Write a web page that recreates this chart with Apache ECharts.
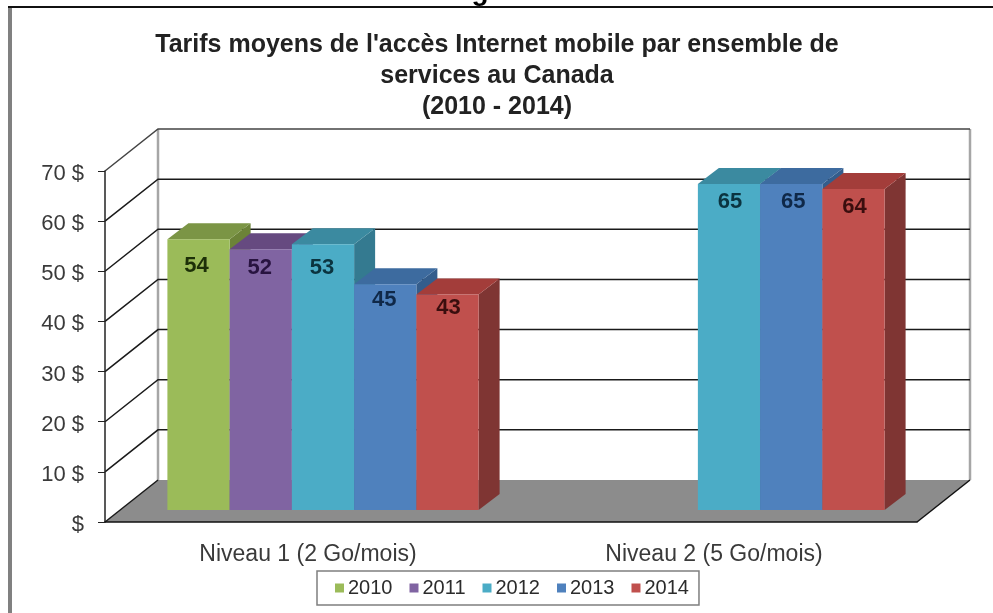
<!DOCTYPE html>
<html>
<head>
<meta charset="utf-8">
<style>
html, body { margin: 0; padding: 0; background: #fff; }
#main { width: 993px; height: 613px; }
</style>
<script src="https://cdn.jsdelivr.net/npm/echarts@6/dist/echarts.min.js"></script>
</head>
<body>
<div id="main"></div>
<script>
var categories = ['Niveau 1 (2 Go/mois)', 'Niveau 2 (5 Go/mois)'];
var years = ['2010', '2011', '2012', '2013', '2014'];
var values2010 = [54, null];
var values2011 = [52, null];
var values2012 = [53, 65];
var values2013 = [45, 65];
var values2014 = [43, 64];
var yTicks = [0, 10, 20, 30, 40, 50, 60, 70];

var allValues = [values2010, values2011, values2012, values2013, values2014];
// front, top, side, label colours per year
var front = ['#9bbb59', '#8064a2', '#4bacc6', '#4f81bd', '#c0504d'];
var top3d = ['#7b9545', '#664a80', '#3b8aa0', '#3d6b9f', '#a33d3a'];
var side = ['#6c8338', '#57406f', '#347a90', '#345d8c', '#7f3533'];
var labelColor = ['#1d3008', '#281340', '#0b3440', '#0f2848', '#3a0e0e'];
// the labels don't sit at a fixed distance from the bar top, so nudge them per year
var labelDx = [-2, -1, -1, -1, 1];
var labelDy = [27, 19, 24, 16, 14];

var FONT = '"Liberation Sans", Arial, sans-serif';
// wall depth of the fake 3d box
var WALL_DX = 53, WALL_DY = -42;
// bars stand a bit inside the floor
var BAR_IN_X = 15, BAR_IN_Y = -12;
var BAR_DX = 21, BAR_DY = -16;
var SLOT = 0.1533;

function poly(points, color) {
    return { type: 'polygon', shape: { points: points }, style: { fill: color } };
}

function renderFloor(params, api) {
    var cs = params.coordSys;
    var y0 = api.coord([0, 0])[1];
    var xl = cs.x, xr = cs.x + cs.width;
    var yTop = api.coord([0, 70])[1];
    var line = function (x1, y1, x2, y2, color, w) {
        return { type: 'line', shape: { x1: x1, y1: y1, x2: x2, y2: y2 }, style: { stroke: color, lineWidth: w } };
    };
    return {
        type: 'group',
        children: [
            line(xl + WALL_DX, yTop + WALL_DY, xl + WALL_DX, y0 + WALL_DY, '#a6a6a6', 2.5),
            line(xr + WALL_DX, yTop + WALL_DY, xr + WALL_DX, y0 + WALL_DY, '#a6a6a6', 2.5),
            poly([[xl, y0], [xl + WALL_DX, y0 + WALL_DY], [xr + WALL_DX, y0 + WALL_DY], [xr, y0]], '#8c8c8c'),
            line(xr, y0, xr + WALL_DX, y0 + WALL_DY, '#111', 1.5)
        ]
    };
}

// one gridline per tick: diagonal on the side wall, then along the back wall
function renderGrid(params, api) {
    var v = api.value(0);
    var y = api.coord([0, v])[1];
    var cs = params.coordSys;
    var xl = cs.x, xr = cs.x + cs.width;
    var pts = [[xl, y], [xl + WALL_DX, y + WALL_DY]];
    if (v > 0) pts.push([xr + WALL_DX, y + WALL_DY]);
    return {
        type: 'polyline',
        shape: { points: pts },
        style: { fill: null, stroke: v === 70 ? '#444' : '#1a1a1a', lineWidth: 1.5 }
    };
}

function makeBarRender(idx) {
    return function (params, api) {
        var v = api.value(1);
        if (isNaN(v)) return null;
        var cat = api.value(0);
        var band = api.size([1, 0])[0];
        var w = band * SLOT;
        var p = api.coord([cat, v]);
        var base = api.coord([cat, 0]);
        var x0 = p[0] + (idx - 2.5) * w + BAR_IN_X;
        var x1 = x0 + w;
        var yt = p[1] + BAR_IN_Y;
        var yb = base[1] + BAR_IN_Y;
        // second group sits a little differently than the first
        var dy = cat === 0 ? labelDy[idx] : 18;
        var dx = cat === 0 ? labelDx[idx] : (idx === 3 ? 2 : 1);
        return {
            type: 'group',
            children: [
                poly([[x1, yt], [x1 + BAR_DX, yt + BAR_DY], [x1 + BAR_DX, yb + BAR_DY], [x1, yb]], side[idx]),
                poly([[x0, yt], [x0 + BAR_DX, yt + BAR_DY], [x1 + BAR_DX, yt + BAR_DY], [x1, yt]], top3d[idx]),
                poly([[x0, yt], [x1, yt], [x1, yb], [x0, yb]], front[idx]),
                {
                    type: 'text',
                    x: x0 + w / 2 + dx,
                    y: yt + dy,
                    style: {
                        text: String(v),
                        fill: labelColor[idx],
                        font: 'bold 22px ' + FONT,
                        textAlign: 'center',
                        textVerticalAlign: 'middle'
                    }
                }
            ]
        };
    };
}

var series = [
    {
        type: 'custom', silent: true, z: 1, legendHoverLink: false,
        coordinateSystem: 'cartesian2d', renderItem: renderFloor,
        data: [[0, 0]], encode: { x: 0, y: 1 }, clip: false
    },
    {
        type: 'custom', silent: true, z: 2, legendHoverLink: false,
        coordinateSystem: 'cartesian2d', renderItem: renderGrid,
        data: yTicks.map(function (t) { return [t]; }), encode: { y: 0 }, clip: false
    }
];
years.forEach(function (y, idx) {
    series.push({
        name: y,
        type: 'custom',
        z: 4 + idx,
        coordinateSystem: 'cartesian2d',
        renderItem: makeBarRender(idx),
        itemStyle: { color: front[idx] },
        data: allValues[idx].map(function (v, i) { return [i, v]; }),
        encode: { x: 0, y: 1 },
        clip: false
    });
});

var myChart = echarts.init(document.getElementById('main'), null, { renderer: 'canvas' });
var option = {
    backgroundColor: '#fff',
    animation: false,
    textStyle: { fontFamily: FONT },
    title: {
        text: "Tarifs moyens de l'accès Internet mobile par ensemble de\nservices au Canada\n(2010 - 2014)",
        left: 492,
        top: 25,
        textAlign: 'center',
        textStyle: { fontFamily: FONT, fontSize: 25, fontWeight: 'bold', color: '#222', lineHeight: 31 }
    },
    legend: {
        data: years,
        left: 317,
        top: 571,
        width: 382,
        orient: 'horizontal',
        icon: 'rect',
        itemWidth: 9,
        itemHeight: 9,
        itemGap: 17,
        padding: [7, 10, 7, 18],
        borderColor: '#7f7f7f',
        borderWidth: 1.5,
        textStyle: { fontFamily: FONT, fontSize: 20, color: '#2b2b2b', padding: [0, 0, 0, -1] }
    },
    grid: { left: 105, right: 76, top: 171, bottom: 91 },
    xAxis: {
        type: 'category',
        data: categories,
        z: 3,
        axisLine: { lineStyle: { color: '#111', width: 1.5 } },
        axisTick: { length: 9, lineStyle: { color: '#222', width: 1 } },
        axisLabel: { fontFamily: FONT, fontSize: 23, color: '#3a3a3a', margin: 21 }
    },
    yAxis: {
        type: 'value',
        min: 0,
        max: 70,
        interval: 10,
        z: 3,
        axisLine: { show: true, lineStyle: { color: '#222', width: 1.5 } },
        axisTick: { show: true, length: 7, lineStyle: { color: '#222', width: 1 } },
        splitLine: { show: false },
        axisLabel: {
            margin: 21,
            formatter: function (v) { return '{t|' + (v === 0 ? '$' : v + ' $') + '}'; },
            rich: {
                t: { fontFamily: FONT, fontSize: 22, color: '#3a3a3a', padding: [6, 0, 0, 0] }
            }
        }
    },
    graphic: [
        { type: 'rect', shape: { x: 8, y: 6, width: 4, height: 607 }, style: { fill: '#808080' }, z: 20 },
        { type: 'rect', shape: { x: 8, y: 6, width: 985, height: 2 }, style: { fill: '#111' }, z: 20 },
        {
            type: 'text', x: 480, y: 6, z: 20,
            style: { text: 'g', fill: '#000', font: 'bold 28px ' + FONT, textAlign: 'center', textVerticalAlign: 'bottom' }
        }
    ],
    series: series
};
myChart.setOption(option);
</script>
</body>
</html>
